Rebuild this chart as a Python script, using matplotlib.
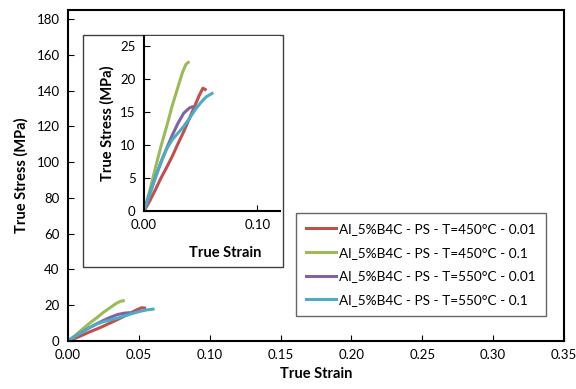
import matplotlib
matplotlib.use("Agg")
import matplotlib.pyplot as plt
from matplotlib.patches import Rectangle

plt.rcParams['font.family'] = ['Lato', 'DejaVu Sans']

# strain / stress curves
red_x = [0, 0.005, 0.01, 0.015, 0.02, 0.025, 0.03, 0.035, 0.04, 0.045, 0.049, 0.052, 0.054]
red_y = [0, 1.5, 3.2, 5.0, 6.6, 8.3, 10.2, 12.0, 14.0, 16.0, 17.6, 18.6, 18.4]
green_x = [0, 0.005, 0.01, 0.015, 0.02, 0.025, 0.03, 0.034, 0.037, 0.039]
green_y = [0, 3.0, 6.5, 9.8, 12.8, 16.0, 18.8, 21.0, 22.2, 22.5]
purple_x = [0, 0.005, 0.01, 0.015, 0.02, 0.025, 0.03, 0.035, 0.04, 0.043, 0.045]
purple_y = [0, 2.6, 5.1, 7.4, 9.5, 11.5, 13.3, 14.8, 15.6, 15.8, 15.5]
cyan_x = [0, 0.005, 0.01, 0.015, 0.02, 0.025, 0.03, 0.035, 0.04, 0.045, 0.05, 0.055, 0.06]
cyan_y = [0, 2.5, 5.0, 7.4, 9.4, 10.8, 11.8, 12.8, 14.0, 15.3, 16.4, 17.3, 17.8]

labels = ["Al_5%B4C - PS - T=450°C - 0.01",
          "Al_5%B4C - PS - T=450°C - 0.1",
          "Al_5%B4C - PS - T=550°C - 0.01",
          "Al_5%B4C - PS - T=550°C - 0.1"]
colors = ["#C0504D", "#9BBB59", "#8064A2", "#4BACC6"]
series = [(red_x, red_y), (green_x, green_y), (purple_x, purple_y), (cyan_x, cyan_y)]

fig = plt.figure(figsize=(5.76, 3.89), dpi=100)
ax = fig.add_axes([68/576, 1-341/389, (564-68)/576, (341-10)/389])

for (x, y), c, lab in zip(series, colors, labels):
    ax.plot(x, y, color=c, lw=2.2, label=lab)

ax.set_xlim(0, 0.35)
ax.set_ylim(0, 185)
ax.set_xticks([0, 0.05, 0.1, 0.15, 0.2, 0.25, 0.3, 0.35])
ax.set_xticklabels(["%.2f" % t for t in ax.get_xticks()])
ax.set_yticks(range(0, 181, 20))
ax.tick_params(direction='in', length=4, labelsize=9.5, pad=6)
for s in ax.spines.values():
    s.set_linewidth(1.5)
ax.set_xlabel("True Strain", fontsize=10.5, fontweight='bold', labelpad=4)
ax.set_ylabel("True Stress (MPa)", fontsize=10.5, fontweight='bold', labelpad=6)

ax.legend(loc='upper left', bbox_to_anchor=(296/576, 1-213/389),
          bbox_transform=fig.transFigure, fontsize=9.8, frameon=True,
          fancybox=False, edgecolor='#404040', borderaxespad=0,
          handlelength=2.2, handletextpad=0.2, labelspacing=0.85,
          borderpad=0.75).get_frame().set_linewidth(1.0)

# inset frame
fig.add_artist(Rectangle((83/576, 1-267/389), 200/576, 232/389,
                         transform=fig.transFigure, facecolor='white',
                         edgecolor='#404040', lw=1.0, zorder=1))

ins = fig.add_axes([144/576, 1-211/389, (280-144)/576, (211-36)/389], zorder=2)
for (x, y), c in zip(series, colors):
    ins.plot(x, y, color=c, lw=2.2)
ins.set_xlim(0, 0.12)
ins.set_ylim(0, 26.5)
ins.set_xticks([0, 0.1])
ins.set_xticklabels(["0.00", "0.10"])
ins.set_yticks(range(0, 26, 5))
ins.spines['top'].set_visible(False)
ins.spines['right'].set_visible(False)
ins.spines['left'].set_linewidth(1.5)
ins.spines['bottom'].set_linewidth(1.5)
ins.tick_params(direction='in', length=4, labelsize=9.5, pad=6)
ins.set_xlabel("True Strain", fontsize=10.5, fontweight='bold')
ins.xaxis.set_label_coords(0.6, -0.2)
ins.set_ylabel("True Stress (MPa)", fontsize=10.5, fontweight='bold', labelpad=4)

fig.savefig("out.png", dpi=100)
